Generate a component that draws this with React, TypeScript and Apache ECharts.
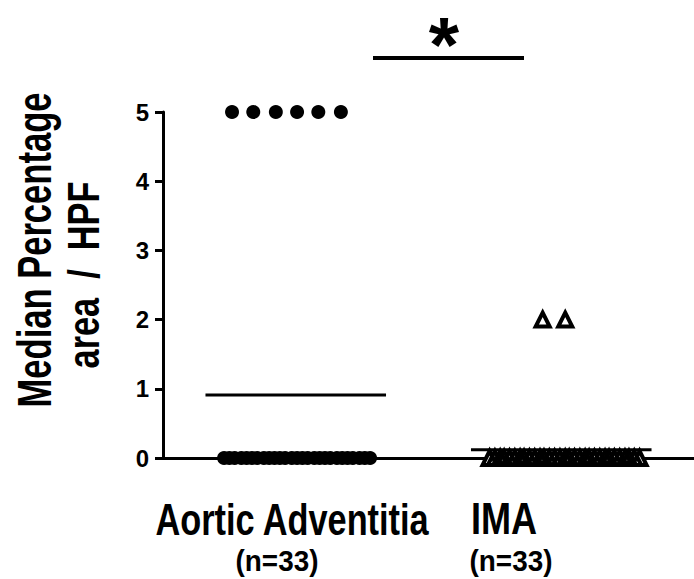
import React, { useEffect, useRef } from "react";
import * as echarts from "echarts";

// ---- data ----
const categories = ["Aortic Adventitia", "IMA"];
const groupCounts = ["(n=33)", "(n=33)"];
const categoryPositions = [1, 3];

const aorticX = [
  0.52, 0.68, 0.85, 1.01, 1.17, 1.34,
  0.46, 0.50, 0.54, 0.59, 0.63, 0.67, 0.71, 0.76, 0.80, 0.84, 0.88, 0.92, 0.97, 1.01,
  1.05, 1.09, 1.14, 1.18, 1.22, 1.26, 1.31, 1.35, 1.39, 1.43, 1.48, 1.52, 1.56,
];
const aorticY = [
  5, 5, 5, 5, 5, 5,
  0, 0, 0, 0, 0, 0, 0, 0, 0, 0, 0, 0, 0, 0,
  0, 0, 0, 0, 0, 0, 0, 0, 0, 0, 0, 0, 0,
];
const imaX = [
  2.86, 3.03,
  2.46, 2.50, 2.54, 2.57, 2.61, 2.65, 2.69, 2.72, 2.76, 2.80, 2.84, 2.87, 2.91, 2.95, 2.99, 3.03,
  3.06, 3.10, 3.14, 3.18, 3.21, 3.25, 3.29, 3.33, 3.36, 3.40, 3.44, 3.48, 3.51, 3.55, 3.59,
];
const imaY = [
  2, 2,
  0, 0, 0, 0, 0, 0, 0, 0, 0, 0, 0, 0, 0, 0, 0, 0,
  0, 0, 0, 0, 0, 0, 0, 0, 0, 0, 0, 0, 0, 0, 0,
];
const groupMeans = [0.91, 0.12];
const yTicks = [0, 1, 2, 3, 4, 5];

const FONT = "'Liberation Sans', Arial, Helvetica, sans-serif";
const MEAN_HALF_WIDTH = 0.68;

const centered = { textAlign: "center", textVerticalAlign: "middle", align: "center", verticalAlign: "middle" };

export default function App() {
  const ref = useRef<HTMLDivElement>(null);
  useEffect(() => {
    if (!ref.current) return;
    const chart = echarts.init(ref.current, null, { renderer: "svg" });
    const pairs = (xs: number[], ys: number[]) => xs.map((x, i) => [x, ys[i]]);
    const meanLine = (i: number) => [
      [categoryPositions[i] - MEAN_HALF_WIDTH, groupMeans[i]],
      [categoryPositions[i] + MEAN_HALF_WIDTH, groupMeans[i]],
    ];
    chart.setOption({
      animation: false,
      backgroundColor: "#fff",
      textStyle: { fontFamily: FONT },
      grid: { left: 163, right: 0, top: 112, bottom: 121, containLabel: false },
      xAxis: {
        type: "value",
        min: 0,
        max: 4,
        axisLine: { show: true, onZero: false, lineStyle: { color: "#000", width: 3 } },
        axisTick: { show: true, customValues: categoryPositions, length: 6, lineStyle: { color: "#000", width: 3 } },
        axisLabel: { show: false },
        splitLine: { show: false },
      },
      yAxis: {
        type: "value",
        min: yTicks[0],
        max: yTicks[yTicks.length - 1],
        interval: 1,
        axisLine: { show: true, lineStyle: { color: "#000", width: 3 } },
        axisTick: { show: true, length: 8, lineStyle: { color: "#000", width: 3 } },
        axisLabel: { color: "#000", fontWeight: "bold", fontSize: 24, margin: 14, fontFamily: FONT },
        splitLine: { show: false },
      },
      series: [
        {
          name: "Aortic mean",
          type: "line",
          data: meanLine(0),
          symbol: "none",
          lineStyle: { color: "#000", width: 3 },
          z: 1,
        },
        {
          name: "IMA mean",
          type: "line",
          data: meanLine(1),
          symbol: "none",
          lineStyle: { color: "#000", width: 3 },
          z: 1,
        },
        {
          name: categories[0],
          type: "scatter",
          data: pairs(aorticX, aorticY),
          symbol: "circle",
          symbolSize: 14,
          itemStyle: { color: "#000", opacity: 1 },
          z: 3,
        },
        {
          name: categories[1],
          type: "scatter",
          data: pairs(imaX, imaY),
          symbol: "triangle",
          symbolSize: 14,
          itemStyle: { color: "#fff", borderWidth: 0, opacity: 1 },
          z: 3,
        },
        {
          name: categories[1] + " outline",
          type: "scatter",
          data: pairs(imaX, imaY),
          symbol: "triangle",
          symbolSize: 14,
          silent: true,
          itemStyle: { color: "rgba(0,0,0,0)", borderColor: "#000", borderWidth: 4, opacity: 1 },
          z: 4,
        },
      ],
      graphic: [
        {
          type: "text",
          x: 34,
          y: 250,
          rotation: Math.PI / 2,
          scaleX: 0.72,
          style: { text: "Median Percentage", font: `bold 48px ${FONT}`, fill: "#000", ...centered },
        },
        {
          type: "text",
          x: 83,
          y: 275,
          rotation: Math.PI / 2,
          scaleX: 0.78,
          style: { text: "area  /  HPF", font: `bold 44px ${FONT}`, fill: "#000", ...centered },
        },
        {
          type: "text",
          x: 292,
          y: 519,
          scaleX: 0.78,
          style: { text: categories[0], font: `bold 44px ${FONT}`, fill: "#000", ...centered },
        },
        {
          type: "text",
          x: 504,
          y: 519,
          scaleX: 0.82,
          style: { text: categories[1], font: `bold 44px ${FONT}`, fill: "#000", ...centered },
        },
        {
          type: "text",
          x: 277,
          y: 561,
          scaleX: 0.93,
          style: { text: groupCounts[0], font: `bold 30px ${FONT}`, fill: "#000", ...centered },
        },
        {
          type: "text",
          x: 511,
          y: 561,
          scaleX: 0.93,
          style: { text: groupCounts[1], font: `bold 30px ${FONT}`, fill: "#000", ...centered },
        },
        {
          type: "line",
          shape: { x1: 373, y1: 58, x2: 524, y2: 58 },
          style: { stroke: "#000", lineWidth: 4 },
        },
        {
          type: "text",
          x: 444,
          y: 45,
          style: { text: "*", font: `bold 78px ${FONT}`, fill: "#000", ...centered },
        },
      ],
    });
    return () => chart.dispose();
  }, []);
  return <div ref={ref} style={{ position: "fixed", left: 0, top: 0, width: 694, height: 579, background: "#fff" }} />;
}
